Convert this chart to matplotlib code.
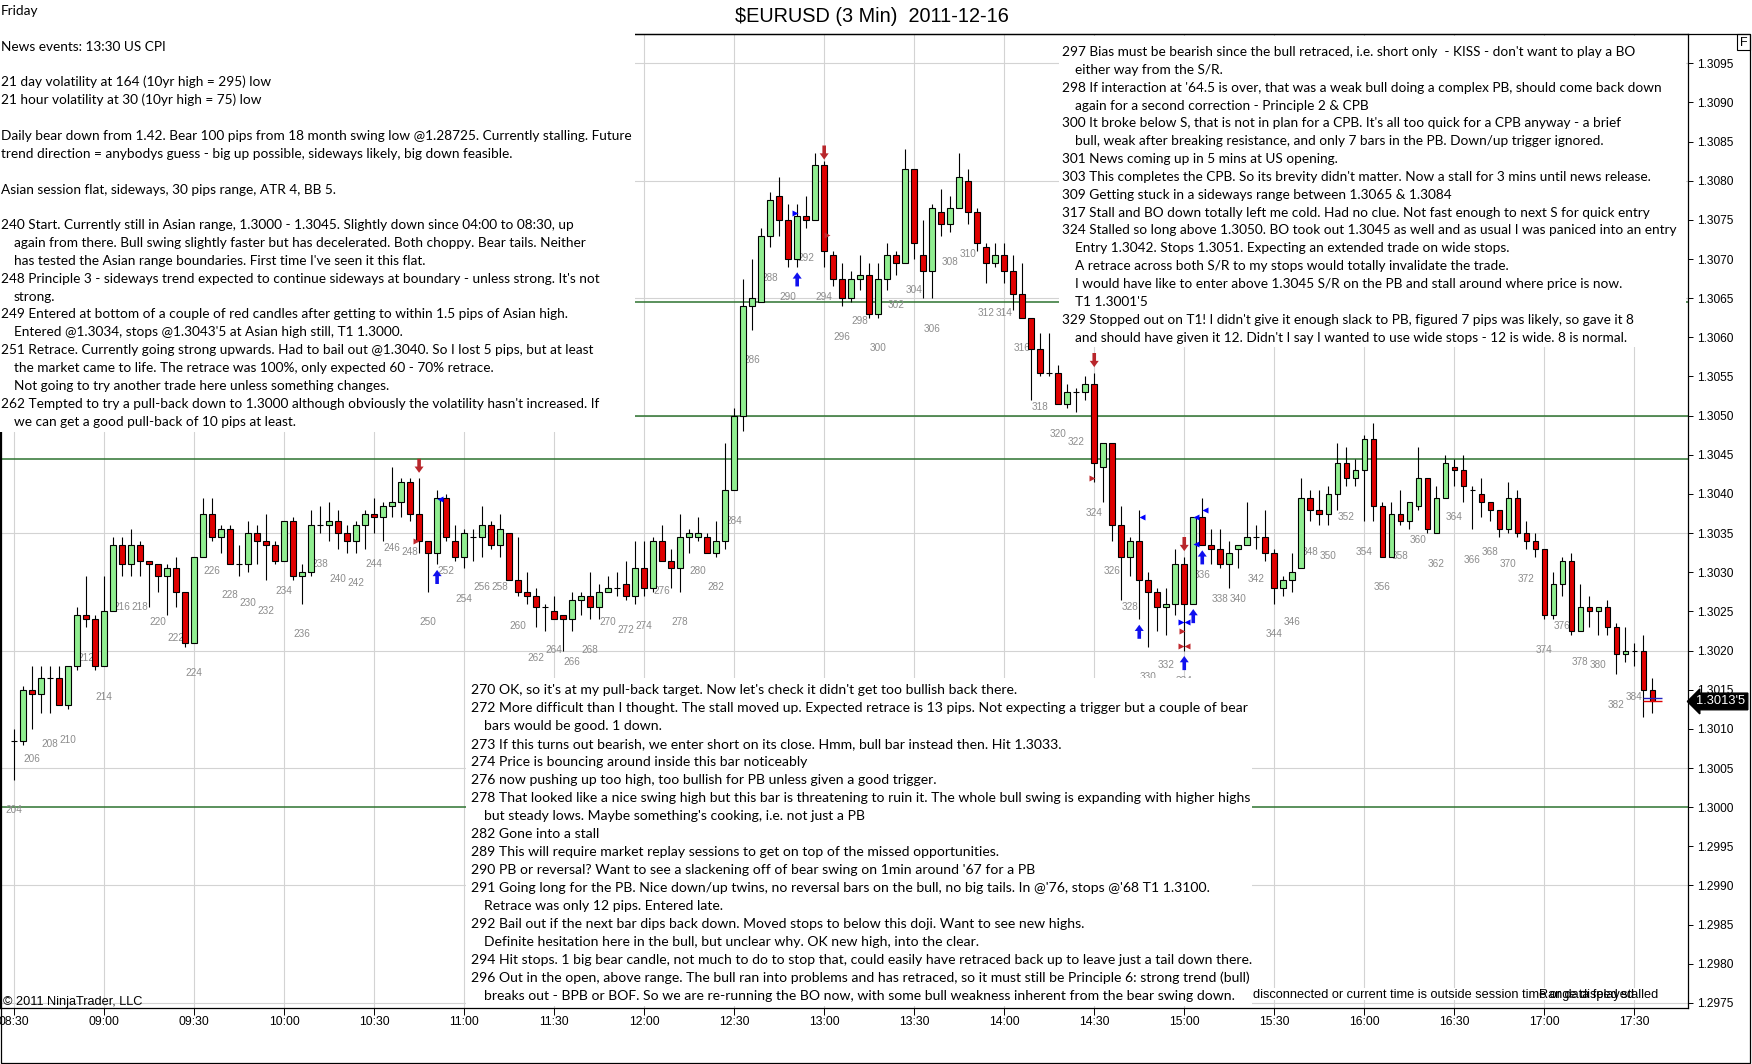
import numpy as np
import matplotlib
matplotlib.use('Agg')
import matplotlib.pyplot as plt
from matplotlib.patches import Rectangle

# ---- data -------------------------------------------------------------
first_bar = 204
# prices in pips above 1.3000, bars 204 .. 386
open_pips = [8.5, 8.5, 15, 14.5, 16.5, 16.5, 13, 18, 24.5, 24,
             18, 25, 33.5, 31, 33.5, 31.5, 31, 29.5, 30.5, 27.5,
             21, 32, 37.5, 34.5, 35.5, 31, 31, 35, 34, 33.5,
             31.5, 36.5, 29.5, 30, 36, 36, 36.5, 35, 34, 36,
             37.5, 37, 38.5, 39, 41.5, 37.5, 34, 32.5, 39.5, 34,
             32, 34.5, 34.5, 36, 33.5, 35, 29, 27.5, 27, 25.5,
             25, 24.5, 24, 26.5, 27, 25.5, 27.5, 28, 28.5, 27,
             30.5, 28, 34, 31.5, 30.5, 34.5, 34.5, 34.5, 32.5, 34,
             40.5, 50, 64, 64.5, 73, 78, 75, 70, 75.5, 75,
             82, 70.5, 67.5, 65, 67.5, 68, 63, 67.5, 70.5, 69.5,
             81.5, 70.5, 68.5, 76, 74.5, 76.5, 80, 76, 71.5, 69.5,
             70.5, 68.5, 65.5, 62.5, 58.5, 55.5, 55.5, 51.5, 53, 53,
             54, 43.5, 46.5, 36, 32, 34, 29, 27.5, 25.5, 26,
             31, 26, 37, 33.5, 33, 31, 33, 33.5, 34.5, 34.5,
             32.5, 28, 29, 30.5, 39.5, 38, 37.5, 40, 44, 42,
             43, 47, 38.5, 32, 37.5, 36.5, 38.5, 42, 35, 39.5,
             43.5, 43, 40.5, 40, 39, 38, 35.5, 39.5, 35, 34,
             33, 24.5, 28.5, 31.5, 22.5, 25.5, 25, 25.5, 23, 19.5,
             20, 20, 15]
high_pips = [10, 15.5, 18, 18, 18, 18, 18, 25.5, 29.5, 24.5,
             29.5, 34.5, 34.5, 35.5, 34, 31.5, 31, 31, 32, 27.5,
             32, 39.5, 39.5, 36, 36, 33.5, 36.5, 36, 37.5, 34,
             36.5, 37, 31, 38, 38.5, 39, 38, 36, 36.5, 38,
             39.5, 39, 43.5, 42, 42, 42, 34, 40.5, 40, 36,
             35.5, 35.5, 38.5, 36.5, 37.5, 35, 34.5, 30, 28, 26,
             27, 24.5, 27.5, 27.5, 30, 28.5, 29.5, 30, 31.5, 34,
             34, 34.5, 36, 33, 37.5, 35.5, 37, 35, 36.5, 46.5,
             51, 67.5, 70, 74, 78.5, 80.5, 77, 77, 78, 83.5,
             82.5, 71, 69.5, 68.5, 70.5, 69.5, 69.5, 72, 71, 84,
             81.5, 75, 77, 79, 78, 83.5, 81.5, 76.5, 72, 72,
             72, 70.5, 69.5, 62.5, 60.5, 60.5, 56.5, 54, 53.5, 55,
             55.5, 46.5, 46.5, 38.5, 34.5, 38, 30, 28, 28, 33,
             32, 37, 39.5, 35.5, 35.5, 34, 33.5, 39, 36, 38,
             33, 29.5, 32.5, 42, 40.5, 40.5, 41, 46.5, 46, 44.5,
             47.5, 49, 39, 39, 40.5, 39, 46, 42, 41, 45,
             44.5, 45, 41, 42, 39, 38, 41.5, 40.5, 36.5, 35,
             33, 30, 32, 32.5, 28.5, 27, 25.5, 26.5, 23.5, 23,
             21, 22, 16.5]
low_pips = [3.5, 8, 10, 12, 12, 13, 12.5, 17.5, 23, 17.5,
            18, 25, 29.5, 29.5, 29.5, 25.5, 27.5, 24.5, 25.5, 20.5,
            21, 32, 34, 32.5, 31, 29.5, 30, 31, 29, 31,
            31.5, 29, 26, 29.5, 35, 34, 33, 32.5, 32.5, 33,
            35, 34, 37, 37, 36.5, 32.5, 27.5, 31, 34, 31.5,
            30.5, 31.5, 32, 33, 32, 29, 27, 26, 23, 22.5,
            24, 20, 22.5, 24.5, 24, 24, 27.5, 27, 26.5, 26,
            27, 27.5, 31.5, 28, 27.5, 32.5, 34, 32.5, 32, 33,
            40.5, 48, 61, 64.5, 71.5, 73, 69, 69, 74, 75,
            69, 66.5, 64, 64.5, 66, 62.5, 62.5, 66, 68, 69.5,
            70, 65, 65, 73, 73.5, 76.5, 74.5, 71, 67, 69,
            67, 63.5, 62.5, 52, 55, 55, 51.5, 51, 50.5, 52,
            41.5, 39, 34, 26.5, 29.5, 24, 20.5, 22.5, 22, 24.5,
            20, 26, 33.5, 31, 30.5, 28, 30.5, 33.5, 33, 31.5,
            26, 27, 27.5, 30.5, 36.5, 36, 36, 38, 41, 41,
            36.5, 36.5, 32, 32, 36, 35.5, 38, 35, 35, 39.5,
            41, 39, 35.5, 37, 36.5, 34.5, 35, 34.5, 33, 32,
            24, 24, 27, 22, 22.5, 23, 22, 22, 17, 18.5,
            18, 11.5, 12]
close_pips = [8.5, 15, 14.5, 16.5, 16.5, 13, 18, 24.5, 24, 18,
              25, 33.5, 31, 33.5, 31.5, 31, 29.5, 30.5, 27.5, 21,
              32, 37.5, 34.5, 35.5, 31, 31, 35, 34, 33.5, 31.5,
              36.5, 29.5, 30, 36, 36, 36.5, 35, 34, 36, 37.5,
              37, 38.5, 39, 41.5, 37.5, 34, 32.5, 39.5, 34.5, 32,
              35, 34.5, 36, 33.5, 35.5, 29, 27.5, 27, 25.5, 25.5,
              24, 24, 26.5, 27, 25.5, 27.5, 28, 28, 27, 30.5,
              28, 34, 31.5, 30.5, 34.5, 35, 35, 32.5, 34, 40.5,
              50, 64, 65, 73, 77.5, 75, 70, 75.5, 75, 82,
              71, 67.5, 65, 67.5, 68, 63, 67.5, 70.5, 69.5, 81.5,
              72, 68.5, 76.5, 74.5, 76.5, 80.5, 76, 72, 69.5, 70.5,
              68.5, 65.5, 62.5, 58.5, 55.5, 55.5, 51.5, 53, 53, 54,
              44, 46.5, 36, 32, 34, 29, 27.5, 25.5, 26, 31,
              26, 37, 33.5, 33, 31, 32.5, 33.5, 34.5, 34.5, 32.5,
              28, 29, 30, 39.5, 38, 37.5, 40, 44, 42, 43,
              47, 38.5, 32, 37.5, 36.5, 39, 42, 35.5, 39.5, 44,
              43, 41, 40.5, 39, 38, 35.5, 39.5, 35, 34, 33,
              24.5, 28.5, 31.5, 22.5, 25.5, 25, 25.5, 23, 19.5, 20,
              20, 15, 13.5]

time_labels = ['08:30', '09:00', '09:30', '10:00', '10:30', '11:00', '11:30',
               '12:00', '12:30', '13:00', '13:30', '14:00', '14:30', '15:00',
               '15:30', '16:00', '16:30', '17:00', '17:30']
sr_levels = [1.30645, 1.3050, 1.30445, 1.3000]

# trade signal marks: (bar, pips at arrow tail)
down_arrows = [(249, 44.5), (294, 84.5), (324, 58), (334, 34.5)]
up_arrows = [(251, 28.5), (291, 66.5), (329, 21.5), (334, 17.5), (335, 23.5), (336, 31)]
# (bar position, pips, marker, colour)
flags = [(251.35, 39.4, '<', 'blue'), (290.75, 75.9, '>', 'blue'),
         (329.3, 37, '<', 'blue'), (335.3, 37, '<', 'blue'), (335.3, 33.6, '<', 'blue'),
         (336.3, 38, '<', 'blue'), (333.65, 23.6, '>', 'blue'), (334.35, 23.6, '<', 'blue'),
         (248.7, 34, '>', '#c0282d'), (294.35, 73.1, '>', '#c0282d'),
         (323.7, 42, '>', '#c0282d'), (333.75, 22.5, '>', '#c0282d'),
         (333.65, 20.6, '>', '#c0282d'), (334.35, 20.6, '<', '#c0282d')]

left_notes = [
    "Friday",
    "",
    "News events: 13:30 US CPI",
    "",
    "21 day volatility at 164 (10yr high = 295) low",
    "21 hour volatility at 30 (10yr high = 75) low",
    "",
    "Daily bear down from 1.42. Bear 100 pips from 18 month swing low @1.28725. Currently stalling. Future",
    "trend direction = anybodys guess - big up possible, sideways likely, big down feasible.",
    "",
    "Asian session flat, sideways, 30 pips range, ATR 4, BB 5.",
    "",
    "240 Start. Currently still in Asian range, 1.3000 - 1.3045. Slightly down since 04:00 to 08:30, up",
    "   again from there. Bull swing slightly faster but has decelerated. Both choppy. Bear tails. Neither",
    "   has tested the Asian range boundaries. First time I've seen it this flat.",
    "248 Principle 3 - sideways trend expected to continue sideways at boundary - unless strong. It's not",
    "   strong.",
    "249 Entered at bottom of a couple of red candles after getting to within 1.5 pips of Asian high.",
    "   Entered @1.3034, stops @1.3043'5 at Asian high still, T1 1.3000.",
    "251 Retrace. Currently going strong upwards. Had to bail out @1.3040. So I lost 5 pips, but at least",
    "   the market came to life. The retrace was 100%, only expected 60 - 70% retrace.",
    "   Not going to try another trade here unless something changes.",
    "262 Tempted to try a pull-back down to 1.3000 although obviously the volatility hasn't increased. If",
    "   we can get a good pull-back of 10 pips at least.",
]
right_notes = [
    "297 Bias must be bearish since the bull retraced, i.e. short only  - KISS - don't want to play a BO",
    "   either way from the S/R.",
    "298 If interaction at '64.5 is over, that was a weak bull doing a complex PB, should come back down",
    "   again for a second correction - Principle 2 & CPB",
    "300 It broke below S, that is not in plan for a CPB. It's all too quick for a CPB anyway - a brief",
    "   bull, weak after breaking resistance, and only 7 bars in the PB. Down/up trigger ignored.",
    "301 News coming up in 5 mins at US opening.",
    "303 This completes the CPB. So its brevity didn't matter. Now a stall for 3 mins until news release.",
    "309 Getting stuck in a sideways range between 1.3065 & 1.3084",
    "317 Stall and BO down totally left me cold. Had no clue. Not fast enough to next S for quick entry",
    "324 Stalled so long above 1.3050. BO took out 1.3045 as well and as usual I was paniced into an entry",
    "   Entry 1.3042. Stops 1.3051. Expecting an extended trade on wide stops.",
    "   A retrace across both S/R to my stops would totally invalidate the trade.",
    "   I would have like to enter above 1.3045 S/R on the PB and stall around where price is now.",
    "   T1 1.3001'5",
    "329 Stopped out on T1! I didn't give it enough slack to PB, figured 7 pips was likely, so gave it 8",
    "   and should have given it 12. Didn't I say I wanted to use wide stops - 12 is wide. 8 is normal.",
]
bottom_notes = [
    "270 OK, so it's at my pull-back target. Now let's check it didn't get too bullish back there.",
    "272 More difficult than I thought. The stall moved up. Expected retrace is 13 pips. Not expecting a trigger but a couple of bear",
    "   bars would be good. 1 down.",
    "273 If this turns out bearish, we enter short on its close. Hmm, bull bar instead then. Hit 1.3033.",
    "274 Price is bouncing around inside this bar noticeably",
    "276 now pushing up too high, too bullish for PB unless given a good trigger.",
    "278 That looked like a nice swing high but this bar is threatening to ruin it. The whole bull swing is expanding with higher highs",
    "   but steady lows. Maybe something's cooking, i.e. not just a PB",
    "282 Gone into a stall",
    "289 This will require market replay sessions to get on top of the missed opportunities.",
    "290 PB or reversal? Want to see a slackening off of bear swing on 1min around '67 for a PB",
    "291 Going long for the PB. Nice down/up twins, no reversal bars on the bull, no big tails. In @'76, stops @'68 T1 1.3100.",
    "   Retrace was only 12 pips. Entered late.",
    "292 Bail out if the next bar dips back down. Moved stops to below this doji. Want to see new highs.",
    "   Definite hesitation here in the bull, but unclear why. OK new high, into the clear.",
    "294 Hit stops. 1 big bear candle, not much to do to stop that, could easily have retraced back up to leave just a tail down there.",
    "296 Out in the open, above range. The bull ran into problems and has retraced, so it must still be Principle 6: strong trend (bull)",
    "   breaks out - BPB or BOF. So we are re-running the BO now, with some bull weakness inherent from the bear swing down.",
]

# ---- figure -----------------------------------------------------------
plt.rcParams['font.family'] = ['Liberation Sans', 'DejaVu Sans']
W, H = 1752, 1064
fig = plt.figure(figsize=(W / 100, H / 100), dpi=100, facecolor='white')
ax = fig.add_axes([0, 56 / H, 1688 / W, 974 / H])

bars = np.arange(first_bar, first_bar + len(open_pips))
o = 1.3 + np.array(open_pips) / 1e4
hi = 1.3 + np.array(high_pips) / 1e4
lo = 1.3 + np.array(low_pips) / 1e4
c = 1.3 + np.array(close_pips) / 1e4

# grid
for v in np.arange(1.2975, 1.30951, 0.0015):
    ax.axhline(v, color='#d3d3d3', lw=0.8, zorder=0)
xt = np.arange(first_bar, first_bar + 10 * len(time_labels), 10)
for b in xt:
    ax.axvline(b, color='#d3d3d3', lw=0.8, zorder=0)
for lev in sr_levels:
    ax.axhline(lev, color='#2e7330', lw=1.1, zorder=1)

# candles
ax.vlines(bars, lo, hi, color='black', lw=0.8, zorder=2)
up = c > o
dn = c < o
ax.bar(bars[up], (c - o)[up], 0.62, bottom=o[up], color='#90ee90',
       edgecolor='black', lw=0.8, zorder=3)
ax.bar(bars[dn], (o - c)[dn], 0.62, bottom=c[dn], color='#e00000',
       edgecolor='black', lw=0.8, zorder=3)
doji = c == o
ax.hlines(c[doji], bars[doji] - 0.31, bars[doji] + 0.31, color='black', lw=0.8, zorder=3)

# bar numbers under every second bar (the bar still forming gets none)
for b, l in zip(bars[:-1], lo[:-1]):
    if b % 2 == 0:
        ax.annotate(str(b), (b, l), xytext=(0, -22), textcoords='offset points',
                    ha='center', va='center', fontsize=7.2, color='#8c8c8c', zorder=2)

# signals
for b, tail in down_arrows:
    ax.annotate('', xy=(b, 1.3 + (tail - 1.8) / 1e4), xytext=(b, 1.3 + tail / 1e4),
                arrowprops=dict(facecolor='#b8262b', edgecolor='none', width=2.6,
                                headwidth=6.5, headlength=4.5, shrink=0), zorder=4)
for b, tail in up_arrows:
    ax.annotate('', xy=(b, 1.3 + (tail + 1.8) / 1e4), xytext=(b, 1.3 + tail / 1e4),
                arrowprops=dict(facecolor='#1010ee', edgecolor='none', width=2.6,
                                headwidth=6.5, headlength=4.5, shrink=0), zorder=4)
for b, p, m, col in flags:
    ax.plot(b, 1.3 + p / 1e4, marker=m, color=col, ms=4.5, mec='none', zorder=4)

# last bar price lines
ax.hlines([1.3 + high_pips[-1] / 1e4 - 0.00025, 1.3 + close_pips[-1] / 1e4],
          bars[-2], bars[-1] + 1.1, colors=['#2020c0', '#e00000'], lw=1, zorder=4)

ax.set_xlim(first_bar - 14 / 9.002, first_bar + 1674 / 9.002)
ax.set_ylim(1.297435, 1.309874)
ax.yaxis.tick_right()
yt = np.arange(1.2975, 1.30951, 0.0005)
ax.set_yticks(yt)
ax.set_yticklabels([f'{v:.4f}' for v in yt])
ax.set_xticks(xt)
ax.set_xticklabels(time_labels)
ax.tick_params(axis='y', direction='out', length=3.6, width=0.7, pad=3, labelsize=8.6)
ax.tick_params(axis='x', direction='out', length=4.8, width=0.7, pad=1, labelsize=8.85)
for s in ax.spines.values():
    s.set_linewidth(0.9)

# last price tag
last = close_pips[-1]
tag = f"{1.3 + int(last) / 1e4:.4f}" + ("'5" if last % 1 else "")
ax.annotate(tag, xy=(1, 1.3 + last / 1e4), xycoords=('axes fraction', 'data'),
            xytext=(6, 0), textcoords='offset points', va='center', ha='left',
            fontsize=9.3, color='white', annotation_clip=False,
            bbox=dict(boxstyle='larrow,pad=0.18', fc='black', ec='black'))

# ---- overlay in pixel coordinates: frame, note boxes, titles -----------
ov = fig.add_axes([0, 0, 1, 1], zorder=5)
ov.set_xlim(0, W)
ov.set_ylim(H, 0)
ov.axis('off')

ov.add_patch(Rectangle((0.5, 34), 1749.5, 1029, fill=False, ec='black', lw=0.9, zorder=1))
ov.add_patch(Rectangle((1737, 34), 13, 16, fill=False, ec='black', lw=0.8, zorder=1))
ov.text(1743.5, 42.5, 'F', ha='center', va='center', fontsize=9)

ov.add_patch(Rectangle((0, 0), 635, 432, fc='white', ec='none', zorder=2))
ov.add_patch(Rectangle((1059, 36), 627, 311, fc='white', ec='none', zorder=2))
ov.add_patch(Rectangle((466, 678), 786, 328, fc='white', ec='none', zorder=2))

NOTE_FONT = 'Lato'


def fit_size(line, width_px):
    t = ov.text(0, 0, line, family=NOTE_FONT, fontsize=10)
    w = t.get_window_extent(renderer=fig.canvas.get_renderer()).width
    t.remove()
    return 10 * width_px / w


def draw_notes(lines, x0, y0, step, size):
    for k, line in enumerate(lines):
        if not line:
            continue
        dx = 13 if line.startswith(' ') else 0
        ov.text(x0 + dx, y0 + k * step, line.strip(), family=NOTE_FONT,
                fontsize=size, va='baseline', ha='left', zorder=3)


draw_notes(left_notes, 1, 15, 17.85, fit_size(left_notes[7], 631))
draw_notes(right_notes, 1062, 56, 17.85, fit_size(right_notes[10], 609))
draw_notes(bottom_notes, 471, 694, 18.0, fit_size(bottom_notes[6], 779))

ov.text(872, 17, '$EURUSD (3 Min)  2011-12-16', ha='center', va='center', fontsize=14.3)
ov.text(3, 1005, '\u00a9 2011 NinjaTrader, LLC', ha='left', va='baseline', fontsize=9.2)
ov.add_patch(Rectangle((1252, 988), 428, 12, fc='white', ec='none', zorder=2))
ov.text(1253, 998, 'disconnected or current time is outside session time or data feed stalled',
        ha='left', va='baseline', fontsize=9.2, zorder=3)
ov.text(1539, 998, 'Range displayed', ha='left', va='baseline', fontsize=9.2, zorder=3)

fig.savefig('out.png', dpi=100, facecolor='white')
